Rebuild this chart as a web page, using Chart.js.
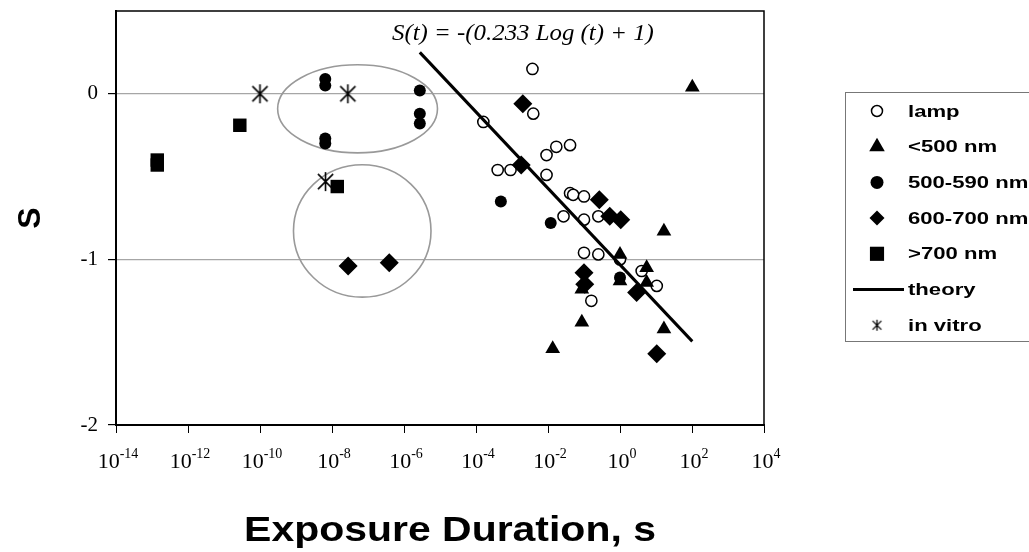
<!DOCTYPE html>
<html>
<head>
<meta charset="utf-8">
<script src="https://cdn.jsdelivr.net/npm/chart.js@4.4.0/dist/chart.umd.min.js"></script>
<style>
html, body { margin: 0; padding: 0; background: #fff; }
#wrap { width: 1029px; height: 552px; }
</style>
</head>
<body>
<div id="wrap"><canvas id="chartCanvas"></canvas></div>
<script>
// exposure durations (s) and S values
const lampT = [3.7e-3, 3.9e-3, 1.6e-4, 9.1e-3, 1.7e-2, 4.1e-2, 4.0e-4, 9.1e-4, 9.1e-3, 4.1e-2, 5.0e-2, 0.1, 2.7e-2, 0.1, 0.25, 0.1, 0.25, 0.16, 4.0, 10.5, 1.0];
const lampS = [0.15, -0.12, -0.17, -0.37, -0.32, -0.31, -0.46, -0.46, -0.49, -0.60, -0.61, -0.62, -0.74, -0.76, -0.74, -0.96, -0.97, -1.25, -1.07, -1.16, -1.0];

const blueT = [102, 16.6, 5.5, 5.5, 16.6, 1.35e-2, 8.7e-2, 1.0, 1.0, 8.7e-2];
const blueS = [0.04, -0.83, -1.05, -1.14, -1.42, -1.54, -1.38, -0.97, -1.13, -1.18];

const greenT = [6.5e-9, 6.5e-9, 6.5e-9, 6.5e-9, 2.75e-6, 2.75e-6, 2.75e-6, 4.9e-4, 1.19e-2, 1.0];
const greenS = [0.09, 0.05, -0.27, -0.30, 0.02, -0.12, -0.18, -0.65, -0.78, -1.11];

const redT = [2.8e-8, 3.9e-7, 2.0e-3, 1.8e-3, 0.266, 0.52, 1.05, 0.1, 0.105, 2.9, 10.5];
const redS = [-1.04, -1.02, -0.06, -0.43, -0.64, -0.74, -0.76, -1.08, -1.15, -1.20, -1.57];

const irT = [1.4e-13, 1.4e-13, 2.75e-11, 1.4e-8];
const irS = [-0.40, -0.43, -0.19, -0.56];

const vitroT = [1e-10, 2.75e-8, 6.6e-9];
const vitroS = [0.0, 0.0, -0.53];

const theoryT = [2.75e-6, 102];
const theoryS = [0.25, -1.495];

const xTickExps = [-14, -12, -10, -8, -6, -4, -2, 0, 2, 4];
const yTicks = [-2, -1, 0];

// grey ellipses: centre (log10 t, S) and radii (decades, S units)
const ellipses = [
    { cx: -7.29, cy: -0.091, rx: 2.22, ry: 0.266 },
    { cx: -7.16, cy: -0.828, rx: 1.91, ry: 0.40 }
];

const equation = 'S(t) = -(0.233 Log (t) + 1)';
const xTitle = 'Exposure Duration, s';

const serif = "'Liberation Serif', 'Times New Roman', serif";
const sans = "'Liberation Sans', Arial, sans-serif";

function pts(xs, ys) {
    return xs.map((x, i) => ({ x: x, y: ys[i] }));
}

function makeStar(size, lw) {
    const c = document.createElement('canvas');
    c.width = size;
    c.height = size;
    const g = c.getContext('2d');
    const h = size / 2;
    const r = h - 1;
    const d = r * 0.8;
    g.strokeStyle = '#000';
    g.lineWidth = lw;
    g.beginPath();
    g.moveTo(h - d, h - d); g.lineTo(h + d, h + d);
    g.moveTo(h + d, h - d); g.lineTo(h - d, h + d);
    g.moveTo(h, h - r); g.lineTo(h, h + r);
    g.stroke();
    return c;
}

const starBig = makeStar(21, 1.6);
const starSmall = makeStar(13, 1.3);

// text stretched horizontally, like the reference rendering
function wideText(ctx, text, x, y, sx, align) {
    const w = ctx.measureText(text).width * sx;
    let x0 = x;
    if (align === 'center') x0 = x - w / 2;
    ctx.save();
    ctx.translate(x0, y);
    ctx.scale(sx, 1);
    ctx.textAlign = 'left';
    ctx.fillText(text, 0, 0);
    ctx.restore();
}

const datasets = [
    {
        label: 'lamp', data: pts(lampT, lampS), pointStyle: 'circle', pointRadius: 5.6,
        pointBackgroundColor: '#fff', pointBorderColor: '#000', pointBorderWidth: 1.5, order: 3,
        legendRadius: 5.5
    },
    {
        label: '<500 nm', data: pts(blueT, blueS), pointStyle: 'triangle', pointRadius: 8.5,
        pointBackgroundColor: '#000', pointBorderColor: '#000', pointBorderWidth: 0, order: 1,
        legendRadius: 9
    },
    {
        label: '500-590 nm', data: pts(greenT, greenS), pointStyle: 'circle', pointRadius: 6,
        pointBackgroundColor: '#000', pointBorderColor: '#000', pointBorderWidth: 0, order: 1,
        legendRadius: 6.5
    },
    {
        label: '600-700 nm', data: pts(redT, redS), pointStyle: 'rectRot', pointRadius: 9.5,
        pointBackgroundColor: '#000', pointBorderColor: '#000', pointBorderWidth: 0, order: 1,
        legendRadius: 7.5
    },
    {
        label: '>700 nm', data: pts(irT, irS), pointStyle: 'rect', pointRadius: 9.5,
        pointBackgroundColor: '#000', pointBorderColor: '#000', pointBorderWidth: 0, order: 1,
        legendRadius: 10
    },
    {
        label: 'theory', data: pts(theoryT, theoryS), showLine: true, borderColor: '#000',
        borderWidth: 3, pointRadius: 0, order: 2, isLine: true
    },
    {
        label: 'in vitro', data: pts(vitroT, vitroS), pointStyle: starBig, pointRadius: 10,
        order: 1, legendStyle: starSmall
    }
];

const decorPlugin = {
    id: 'decor',
    beforeDatasetsDraw(chart) {
        const ctx = chart.ctx;
        const xs = chart.scales.x;
        const ys = chart.scales.y;
        const a = chart.chartArea;

        ctx.save();
        ctx.strokeStyle = '#999';
        ctx.lineWidth = 1.6;
        ellipses.forEach(e => {
            const cx = xs.getPixelForValue(Math.pow(10, e.cx));
            const rx = xs.getPixelForValue(Math.pow(10, e.cx + e.rx)) - cx;
            const cy = ys.getPixelForValue(e.cy);
            const ry = ys.getPixelForValue(e.cy - e.ry) - cy;
            ctx.beginPath();
            ctx.ellipse(cx, cy, rx, ry, 0, 0, Math.PI * 2);
            ctx.stroke();
        });

        // top and right frame
        ctx.strokeStyle = '#000';
        ctx.lineWidth = 1.5;
        ctx.beginPath();
        ctx.moveTo(a.left, a.top);
        ctx.lineTo(a.right, a.top);
        ctx.lineTo(a.right, a.bottom);
        ctx.stroke();
        ctx.restore();
    },
    afterDraw(chart) {
        const ctx = chart.ctx;
        const xs = chart.scales.x;
        const a = chart.chartArea;

        ctx.save();
        ctx.fillStyle = '#000';
        ctx.textBaseline = 'alphabetic';

        // x tick labels with superscript exponents
        xTickExps.forEach(e => {
            const px = xs.getPixelForValue(Math.pow(10, e));
            const expText = e < 0 ? '-' + Math.abs(e) : String(e);
            ctx.font = '22px ' + serif;
            const w1 = ctx.measureText('10').width;
            ctx.font = '14px ' + serif;
            const w2 = ctx.measureText(expText).width;
            const x0 = px - (w1 + w2) / 2 + 2;
            ctx.font = '22px ' + serif;
            ctx.fillText('10', x0, a.bottom + 43);
            ctx.font = '14px ' + serif;
            ctx.fillText(expText, x0 + w1, a.bottom + 33);
        });

        // x axis title
        ctx.font = 'bold 35px ' + sans;
        wideText(ctx, xTitle, 450, 541, 1.17, 'center');

        // equation
        ctx.font = 'italic 23px ' + serif;
        wideText(ctx, equation, 392, 40, 1.08, 'left');

        // legend
        const lx = 845.5, top = 92.5, bottom = 341.5;
        ctx.strokeStyle = '#777';
        ctx.lineWidth = 1;
        ctx.strokeRect(lx, top, 1029 - lx + 5, bottom - top);

        const rowH = 35.7;
        const firstY = 111;
        const markX = 877;
        const textX = 908;
        ctx.font = 'bold 17px ' + sans;
        ctx.textBaseline = 'middle';
        chart.data.datasets.forEach((ds, i) => {
            const y = firstY + i * rowH;
            if (ds.isLine) {
                ctx.strokeStyle = '#000';
                ctx.lineWidth = 3;
                ctx.beginPath();
                ctx.moveTo(853, y);
                ctx.lineTo(904, y);
                ctx.stroke();
            } else {
                ctx.fillStyle = ds.pointBackgroundColor || '#000';
                ctx.strokeStyle = ds.pointBorderColor || '#000';
                ctx.lineWidth = ds.pointBorderWidth || 0;
                Chart.helpers.drawPoint(ctx, {
                    pointStyle: ds.legendStyle || ds.pointStyle,
                    radius: ds.legendRadius || 6,
                    rotation: 0,
                    borderWidth: ds.pointBorderWidth || 0
                }, markX, y);
            }
            ctx.fillStyle = '#000';
            wideText(ctx, ds.label, textX, y + 1, 1.3, 'left');
        });
        ctx.restore();
    }
};

const ctx = document.getElementById('chartCanvas').getContext('2d');

new Chart(ctx, {
    type: 'scatter',
    data: { datasets: datasets },
    plugins: [decorPlugin],
    options: {
        responsive: true,
        maintainAspectRatio: false,
        devicePixelRatio: 1,
        animation: false,
        events: [],
        layout: { padding: { left: 0, top: 6, right: 265, bottom: 0 } },
        plugins: {
            legend: { display: false },
            tooltip: { enabled: false }
        },
        scales: {
            x: {
                type: 'logarithmic',
                min: 1e-14,
                max: 1e4,
                afterBuildTicks: scale => {
                    scale.ticks = xTickExps.map(e => ({ value: Math.pow(10, e), major: true }));
                },
                afterFit: scale => {
                    scale.height = 127;
                    scale.paddingLeft = 0;
                    scale.paddingRight = 0;
                },
                ticks: { display: false },
                grid: { drawOnChartArea: false, drawTicks: true, tickLength: 8, tickColor: '#000', color: '#000' },
                border: { display: true, color: '#000', width: 2 }
            },
            y: {
                type: 'linear',
                min: -2,
                max: 0.5,
                afterBuildTicks: scale => {
                    scale.ticks = yTicks.map(v => ({ value: v }));
                },
                afterFit: scale => {
                    scale.width = 116;
                    scale.paddingTop = 0;
                    scale.paddingBottom = 0;
                },
                ticks: {
                    color: '#000',
                    padding: 10,
                    font: { family: serif, size: 21 },
                    callback: v => String(v)
                },
                grid: {
                    color: c => (c.tick && c.tick.value > -2) ? '#a6a6a6' : 'rgba(0,0,0,0)',
                    lineWidth: 1.2,
                    tickColor: '#000',
                    tickLength: 8
                },
                border: { display: true, color: '#000', width: 2 },
                title: {
                    display: true,
                    text: 'S',
                    color: '#000',
                    font: { family: sans, size: 32, weight: 'bold' },
                    padding: { top: 12, bottom: 0 }
                }
            }
        }
    }
});
</script>
</body>
</html>
